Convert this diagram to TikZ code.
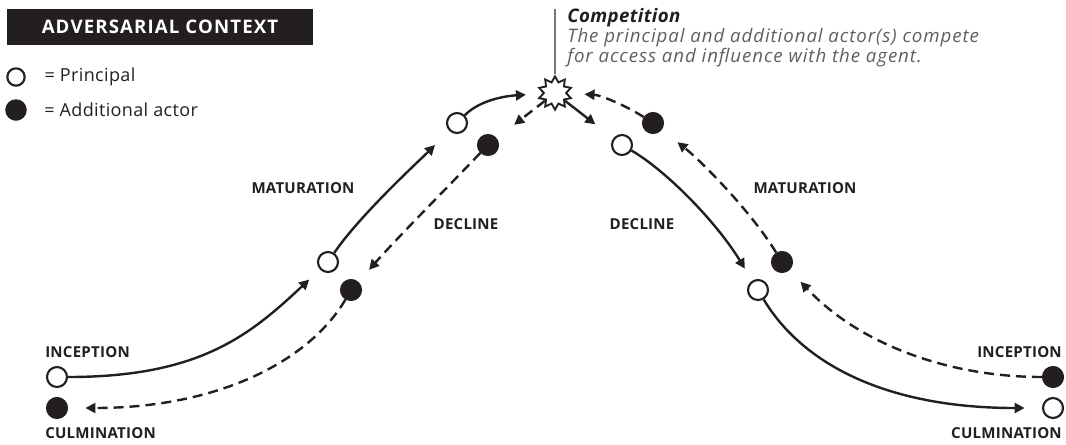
\documentclass[tikz,border=0pt]{standalone}
\usepackage{fontspec}
\setmainfont{Open Sans}
\usetikzlibrary{positioning}
\usetikzlibrary{shapes.geometric}
\usetikzlibrary{arrows.meta}
\definecolor{ink}{RGB}{35,31,32}
\definecolor{mute}{RGB}{95,95,98}
\definecolor{lead}{RGB}{120,120,122}
\tikzset{
principal/.style={circle,draw=ink,line width=1.6pt,fill=white,inner sep=0cm,minimum size=15pt},
actor/.style={principal,fill=ink},
phase/.style={font=\fontsize{11.3}{13}\selectfont\bfseries\addfontfeatures{LetterSpace=1.5},text=ink,inner sep=0pt},
legend/.style={font=\fontsize{13.5}{16}\selectfont\addfontfeatures{LetterSpace=2},text=ink,inner sep=0pt},
note/.style={font=\fontsize{14}{16}\selectfont\itshape\addfontfeatures{LetterSpace=5},text=mute,inner sep=0pt,anchor=base west},
flow/.style={ink,line width=1.8pt,-{Triangle[length=7.5pt,width=7.5pt]},shorten >=13pt},
backflow/.style={flow,dash pattern=on 7.5pt off 4.5pt}
}

\begin{document}
\begin{tikzpicture}[x=0.75pt,y=-0.75pt]
    \useasboundingbox (0,0) rectangle (1066,444);
    %
    \node[fill=ink,text=white,font=\fontsize{14}{16}\selectfont\bfseries\addfontfeatures{LetterSpace=6},
      minimum width=229.5pt,minimum height=27pt](title) at (160,27) {ADVERSARIAL CONTEXT};
    \node[principal,minimum size=13pt](lp) at (16,77) {};
    \node[actor,minimum size=14.5pt](la) at (16,110) {};
    \node[legend,right=14pt of lp](lpt) {= Principal};
    \node[legend,right=13pt of la](lat) {= Additional actor};
    %
    \node[principal](p1) at (57,377) {};
    \node[actor](a1) at (57,408) {};
    \node[principal](p2) at (328,262) {};
    \node[actor](a2) at (351,290) {};
    \node[principal](p3) at (457,123) {};
    \node[actor](a3) at (488,145) {};
    \node[star,star points=10,star point ratio=1.5,minimum size=25pt,inner sep=0pt,
      draw=ink,line width=1.4pt,fill=white](clash) at (555,93) {};
    \node[actor](a4) at (653,123) {};
    \node[principal](p4) at (622,145) {};
    \node[actor](a5) at (782,262) {};
    \node[principal](p5) at (758,290) {};
    \node[actor](a6) at (1053,377) {};
    \node[principal](p6) at (1053,408) {};
    %
    \node[phase,anchor=west](inl) at (45,352) {INCEPTION};
    \node[phase,anchor=west](cul) at (45,433) {CULMINATION};
    \node[phase,anchor=east](inr) at (1062,352) {INCEPTION};
    \node[phase,anchor=east](cur) at (1062,433) {CULMINATION};
    \node[phase](matl) at (303,188) {MATURATION};
    \node[phase](decl) at (466,224) {DECLINE};
    \node[phase](decr) at (642,224) {DECLINE};
    \node[phase](matr) at (805,188) {MATURATION};
    %
    \coordinate (tick) at (555,9);
    \draw[lead,line width=1pt] (tick) -- (clash.north);
    \node[note,font=\fontsize{14}{16}\selectfont\bfseries\itshape\addfontfeatures{LetterSpace=2},text=ink](comp) at (567,22) {Competition};
    \node[note](desc1) at (567,42) {The principal and additional actor(s) compete};
    \node[note](desc2) at (567,62) {for access and influence with the agent.};
    %
    \draw[flow,shorten >=11pt] (p1) .. controls (200,377) and (250,335) .. (p2);
    \draw[flow,shorten >=15pt] (p2) .. controls (360,215) and (420,160) .. (p3);
    \draw[flow,shorten >=12pt] (p3) .. controls (480,100) and (505,96) .. (clash);
    \draw[flow,shorten >=17pt] (clash) -- (p4);
    \draw[flow,shorten >=10.5pt] (p4) .. controls (665,170) and (715,220) .. (p5);
    \draw[flow,shorten >=13pt] (p5) .. controls (800,360) and (880,408) .. (p6);
    %
    \draw[backflow,shorten >=12pt] (a6) .. controls (950,377) and (860,345) .. (a5);
    \draw[backflow,shorten >=15pt] (a5) .. controls (750,210) and (700,160) .. (a4);
    \draw[backflow,shorten >=12.5pt] (a4) .. controls (625,105) and (600,95) .. (clash);
    \draw[backflow,shorten >=16.5pt] (clash) -- (a3);
    \draw[backflow,shorten >=12pt] (a3) .. controls (440,195) and (400,235) .. (a2);
    \draw[backflow,shorten >=13pt] (a2) .. controls (310,360) and (220,408) .. (a1);
\end{tikzpicture}
\end{document}
